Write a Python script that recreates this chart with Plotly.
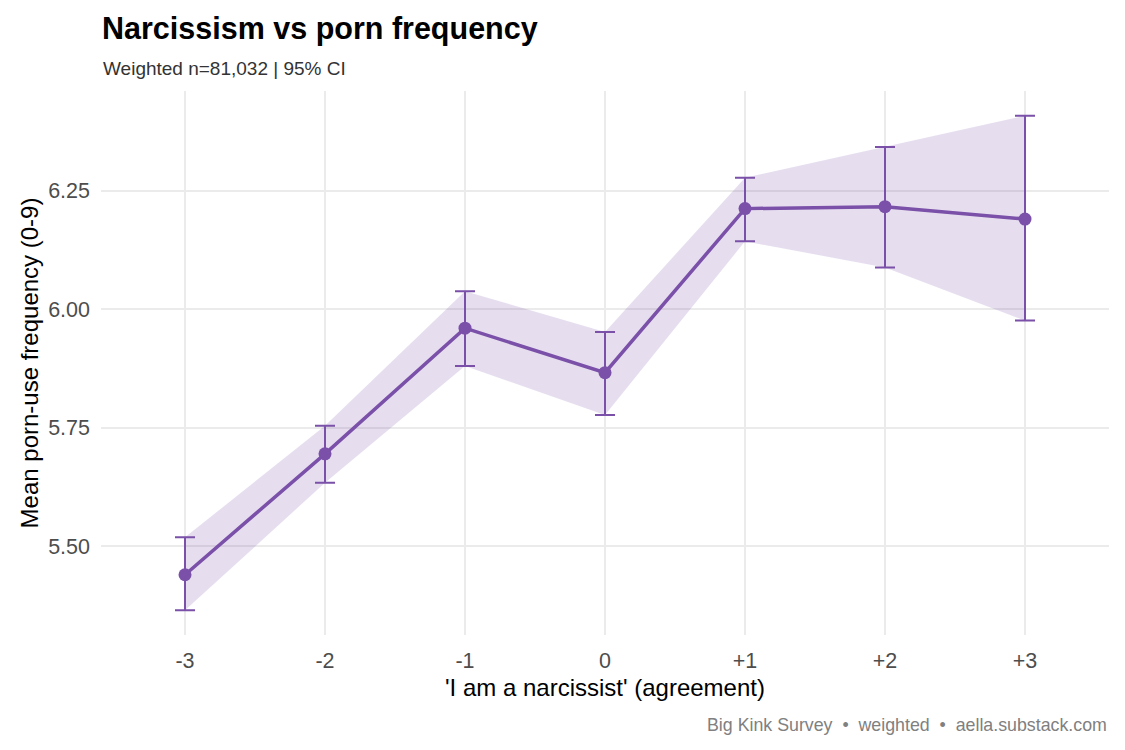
import plotly.graph_objects as go

categories = ["-3", "-2", "-1", "0", "+1", "+2", "+3"]
x_vals = [-3, -2, -1, 0, 1, 2, 3]
means = [5.440, 5.695, 5.960, 5.866, 6.212, 6.216, 6.190]
upper = [5.519, 5.754, 6.038, 5.952, 6.277, 6.342, 6.408]
lower = [5.365, 5.634, 5.880, 5.777, 6.143, 6.088, 5.976]

purple = "#7A50A8"
font = "Liberation Sans, Arial, sans-serif"

fig = go.Figure()
fig.add_trace(go.Scatter(x=x_vals, y=upper, mode="lines", line=dict(width=0),
                         hoverinfo="skip", showlegend=False))
fig.add_trace(go.Scatter(x=x_vals, y=lower, mode="lines", line=dict(width=0),
                         fill="tonexty", fillcolor="rgba(122,80,168,0.19)",
                         hoverinfo="skip", showlegend=False))
fig.add_trace(go.Scatter(
    x=x_vals, y=means, mode="lines+markers",
    line=dict(color=purple, width=3.5),
    marker=dict(color=purple, size=13),
    error_y=dict(type="data", symmetric=False,
                 array=[u - m for u, m in zip(upper, means)],
                 arrayminus=[m - l for m, l in zip(means, lower)],
                 color=purple, thickness=2, width=10),
    showlegend=False))

fig.update_layout(
    width=1125, height=750,
    paper_bgcolor="white", plot_bgcolor="white",
    margin=dict(l=101, r=16, t=91, b=115),
    font=dict(family=font, color="#000000"),
    title=dict(text="<b>Narcissism vs porn frequency</b>", x=102/1125, xanchor="left",
               y=1-28/750, yanchor="middle", font=dict(size=30.5, color="black")),
    annotations=[
        dict(text="Weighted n=81,032 | 95% CI", xref="paper", yref="paper",
             x=(101-101)/1008, y=1+(91-68)/544, xanchor="left", yanchor="middle",
             showarrow=False, font=dict(size=19, color="#333333")),
        dict(text="Big Kink Survey  •  weighted  •  aella.substack.com", xref="paper", yref="paper",
             x=1, y=-(725-635)/544, xanchor="right", yanchor="middle",
             showarrow=False, font=dict(size=17.8, color="#808080")),
    ],
    xaxis=dict(range=[-3.6, 3.6], tickmode="array", tickvals=x_vals, ticktext=categories,
               showgrid=True, gridcolor="#EBEBEB", gridwidth=1.5, zeroline=False,
               showline=False, ticks="", tickfont=dict(size=21.5, color="#4D4D4D"),
               ticklabelstandoff=10,
               title=dict(text="'I am a narcissist' (agreement)", font=dict(size=24, color="black"),
                          standoff=7)),
    yaxis=dict(range=[5.313, 6.460], tickvals=[5.5, 5.75, 6.0, 6.25],
               ticktext=["5.50", "5.75", "6.00", "6.25"],
               showgrid=True, gridcolor="#EBEBEB", gridwidth=1.5, zeroline=False,
               showline=False, ticks="", tickfont=dict(size=21.5, color="#4D4D4D"),
               ticklabelstandoff=10,
               title=dict(text="Mean porn-use frequency (0-9)", font=dict(size=24, color="black"),
                          standoff=2)),
)

fig.write_html("out.html")
